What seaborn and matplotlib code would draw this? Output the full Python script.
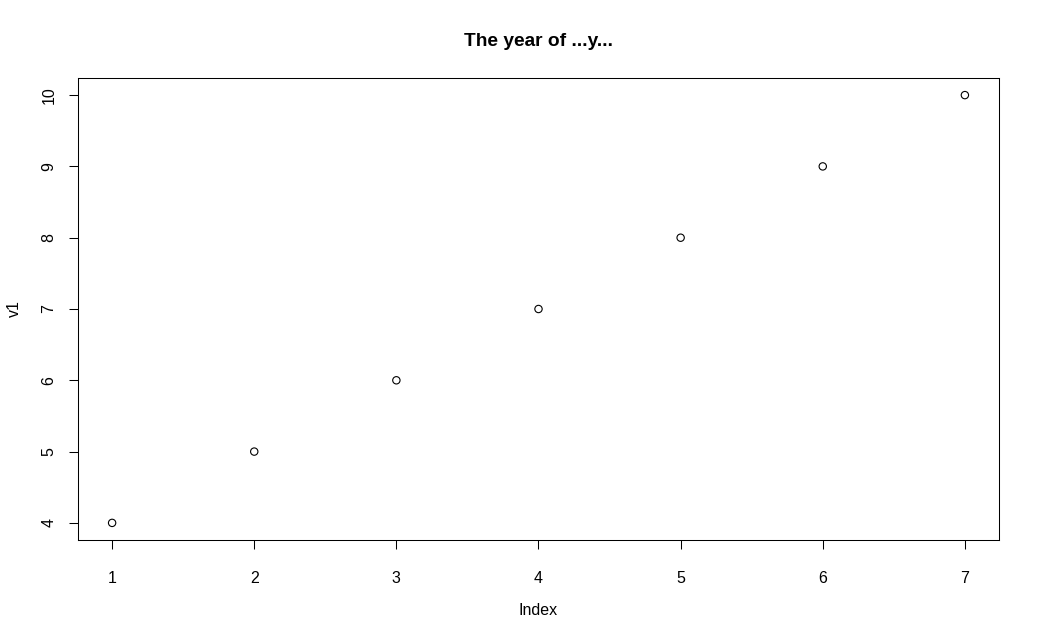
import matplotlib
matplotlib.use("Agg")
import matplotlib.pyplot as plt
import seaborn as sns
import pandas as pd

index = [1, 2, 3, 4, 5, 6, 7]
v1 = [4, 5, 6, 7, 8, 9, 10]
title = "The year of ...y..."

sns.set_style("white")
plt.rcParams['font.family'] = ['Liberation Sans', 'DejaVu Sans']
plt.rcParams['text.color'] = 'black'
plt.rcParams['axes.labelcolor'] = 'black'
plt.rcParams['xtick.color'] = 'black'
plt.rcParams['ytick.color'] = 'black'

df = pd.DataFrame({"Index": index, "v1": v1})

fig = plt.figure(figsize=(10.4, 6.39), dpi=100)
ax = fig.add_axes([78/1040, 1-540/639, (999-78)/1040, (540-78)/639])
sns.scatterplot(data=df, x="Index", y="v1", ax=ax, marker="o", s=28,
                facecolor="none", edgecolor="black", linewidth=0.8)
ax.set_xlim(0.76, 7.24)
ax.set_ylim(3.76, 10.24)
ax.set_xticks(index)
ax.set_yticks(v1)
ax.tick_params(axis="both", direction="out", length=6.5, width=0.75, color="black",
               labelcolor="black", labelsize=11.5, left=True, bottom=True)
ax.tick_params(axis="x", pad=15.5)
ax.tick_params(axis="y", pad=9)
for lab in ax.get_yticklabels():
    lab.set_rotation(90)
    lab.set_va("center")
for sp in ax.spines.values():
    sp.set_visible(True)
    sp.set_color("black")
    sp.set_linewidth(0.75)
ax.set_xlabel("Index", fontsize=11.5, labelpad=12.5, color="black")
ax.set_ylabel("v1", fontsize=11.5, labelpad=14, color="black")
fig.text(539/1040, 1-41/639, title, ha="center", va="center", fontsize=13.8,
         fontweight="bold", color="black")
fig.savefig("out.png", dpi=100)
